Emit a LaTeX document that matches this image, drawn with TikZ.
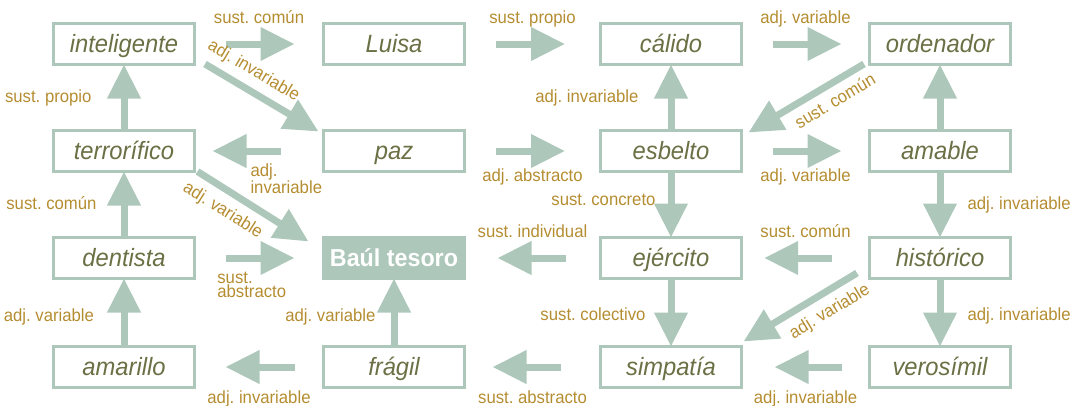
\documentclass[tikz,border=0pt]{standalone}
\usepackage{fontspec}
\setmainfont{Liberation Sans}[FakeStretch=0.95]
\usepackage{xcolor}
\usepackage{tikz}
\usetikzlibrary{arrows.meta, positioning}
\definecolor{verde}{HTML}{ADC8BA}
\definecolor{ocre}{HTML}{B58D31}
\definecolor{oliva}{HTML}{6B7045}
\frenchspacing

\begin{document}
\begin{tikzpicture}[x=1bp, y=-1bp,
  caja/.style={draw=verde, line width=3bp, fill=white, minimum width=141bp, minimum height=41bp,
    inner sep=0pt, outer sep=0pt, text=oliva, text height=18bp, text depth=2bp,
    font=\fontsize{25bp}{28bp}\selectfont\itshape},
  flecha/.style={verde, line width=7bp, -{Triangle[length=34bp, width=32bp]}},
  etq/.style={text=ocre, inner sep=0pt, text height=12.5bp, text depth=3.5bp,
    font=\fontsize{17.6bp}{14bp}\selectfont},
  bloque/.style={text=ocre, inner sep=0pt, align=left, font=\fontsize{17.6bp}{14bp}\selectfont}
]
\useasboundingbox (0,0) rectangle (1070,405);

\node[caja] (inteligente) at (124,44) {inteligente};
\node[caja] (luisa) at (394,44) {Luisa};
\node[caja] (calido) at (671,44) {cálido};
\node[caja] (ordenador) at (940,44) {ordenador};
\node[caja] (terrorifico) at (124,151) {terrorífico};
\node[caja] (paz) at (394,151) {paz};
\node[caja] (esbelto) at (671,151) {esbelto};
\node[caja] (amable) at (940,151) {amable};
\node[caja] (dentista) at (124,258) {dentista};
\node[caja, fill=verde, text=white, font=\fontsize{24.5bp}{28bp}\selectfont\bfseries] (baul) at (394,258) {Baúl tesoro};
\node[caja] (ejercito) at (671,258) {ejército};
\node[caja] (historico) at (940,258) {histórico};
\node[caja] (amarillo) at (124,367) {amarillo};
\node[caja] (fragil) at (394,367) {frágil};
\node[caja] (simpatia) at (671,367) {simpatía};
\node[caja] (verosimil) at (940,367) {verosímil};

\draw[flecha, shorten <=31bp, shorten >=29bp] (inteligente) -- node[etq, above=14bp] {sust. común} (luisa);
\draw[flecha, shorten <=31.5bp, shorten >=35.5bp] (luisa) -- node[etq, above=14bp] {sust. propio} (calido);
\draw[flecha, shorten <=31bp, shorten >=28bp] (calido) -- node[etq, above=14bp] {adj. variable} (ordenador);
\draw[flecha, shorten <=43bp, shorten >=18bp] (paz) -- node[bloque, pos=0.593, below right=9bp and 0bp] {adj.\\invariable} (terrorifico);
\draw[flecha, shorten <=31.5bp, shorten >=35.5bp] (paz) -- node[etq, below=14bp] {adj. abstracto} (esbelto);
\draw[flecha, shorten <=31bp, shorten >=28bp] (esbelto) -- node[etq, below=14bp] {adj. variable} (amable);
\draw[flecha, shorten <=31bp, shorten >=29bp] (dentista) -- node[bloque, pos=0.15, below right=11bp and 0bp] {sust.\\abstracto} (baul);
\draw[flecha, shorten <=34.5bp, shorten >=33bp] (ejercito) -- node[etq, above=13.5bp] {sust. individual} (baul);
\draw[flecha, shorten <=38bp, shorten >=22.7bp] (historico) -- node[etq, above=13.5bp] {sust. común} (ejercito);
\draw[flecha, shorten <=29bp, shorten >=31bp] (fragil) -- node[etq, below=20bp] {adj. invariable} (amarillo);
\draw[flecha, shorten <=39.5bp, shorten >=28bp] (simpatia) -- node[etq, below=20bp] {sust. abstracto} (fragil);
\draw[flecha, shorten <=28bp, shorten >=33bp] (verosimil) -- node[etq, below=20bp] {adj. invariable} (simpatia);

\draw[flecha] (terrorifico) -- node[etq, left=29bp] {sust. propio} (inteligente);
\draw[flecha] (esbelto) -- node[etq, left=29bp] {adj. invariable} (calido);
\draw[flecha] (amable) -- (ordenador);
\draw[flecha] (dentista) -- node[etq, left=24bp] {sust. común} (terrorifico);
\draw[flecha] (esbelto) -- node[etq, left=12bp, pos=0.44] {sust. concreto} (ejercito);
\draw[flecha] (amable) -- node[etq, right=24bp] {adj. invariable} (historico);
\draw[flecha] (amarillo) -- node[etq, left=26.5bp, pos=0.44] {adj. variable} (dentista);
\draw[flecha] (fragil) -- node[etq, left=15bp, pos=0.44] {adj. variable} (baul);
\draw[flecha] (ejercito) -- node[etq, left=22bp, pos=0.55] {sust. colectivo} (simpatia);
\draw[flecha] (historico) -- node[etq, right=24bp, pos=0.55] {adj. invariable} (verosimil);

\draw[flecha] ([shift={(10.5,-0.5)}]inteligente.south east) -- node[etq, sloped, above=7bp, pos=0.345] {adj. invariable} ([shift={(-5,1)}]paz.north west);
\draw[flecha] ([shift={(-5.5,-0.5)}]ordenador.south west) -- node[etq, sloped, below=7bp, pos=0.325] {sust. común} ([shift={(7,2)}]esbelto.north east);
\draw[flecha] ([shift={(3,0)}]terrorifico.south east) -- node[etq, sloped, below=8bp, pos=0.32] {adj. variable} ([shift={(-15,4)}]baul.north west);
\draw[flecha] ([shift={(-12.5,-5.5)}]historico.south west) -- node[etq, sloped, below=8bp, pos=0.327] {adj. variable} ([shift={(2,-5)}]simpatia.north east);

\end{tikzpicture}
\end{document}
